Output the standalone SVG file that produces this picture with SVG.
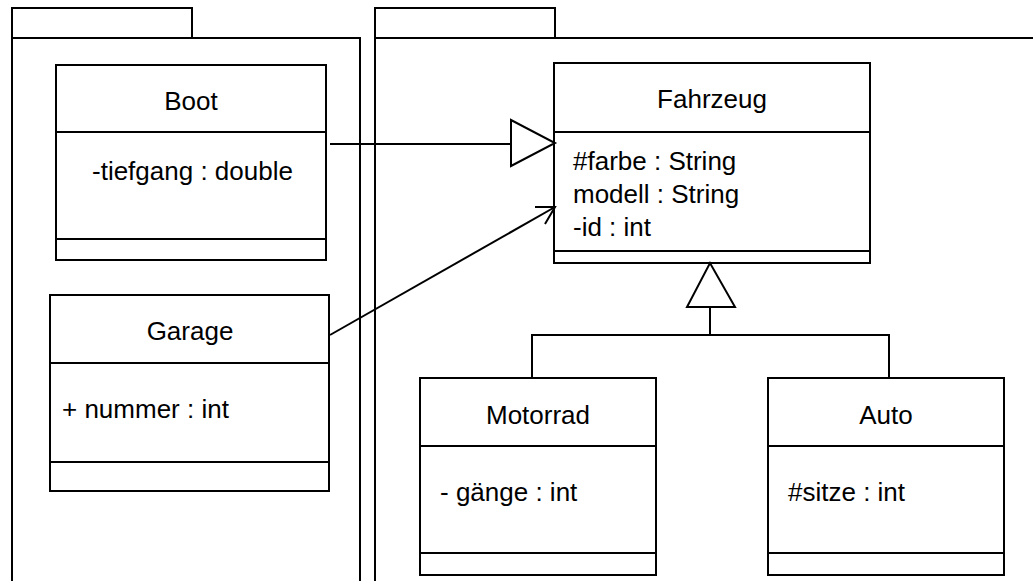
<svg xmlns="http://www.w3.org/2000/svg" width="1033" height="581" viewBox="0 0 1033 581">
<style>
.b{fill:#fff;stroke:#000;stroke-width:2}
.l{fill:none;stroke:#000;stroke-width:2}
.t{font-family:"Liberation Sans",Arial,sans-serif;font-size:26px;fill:#000}
.c{text-anchor:middle}
</style>
<rect width="1033" height="581" fill="#fff"/>
<g id="pkg1">
<rect class="b" x="12" y="8" width="180" height="30"/>
<rect class="b" x="12" y="38" width="348" height="560"/>
</g>
<g id="pkg2">
<rect class="b" x="375" y="8" width="180" height="30"/>
<rect class="b" x="375" y="38" width="680" height="560"/>
</g>
<g id="boot">
<rect class="b" x="56" y="65" width="270" height="195"/>
<line class="l" x1="56" y1="132" x2="326" y2="132"/>
<line class="l" x1="56" y1="239" x2="326" y2="239"/>
<text class="t c" x="191" y="110">Boot</text>
<text class="t" x="92" y="180">-tiefgang : double</text>
</g>
<g id="garage">
<rect class="b" x="50" y="295" width="279" height="196"/>
<line class="l" x1="50" y1="363" x2="329" y2="363"/>
<line class="l" x1="50" y1="462" x2="329" y2="462"/>
<text class="t c" x="190" y="340">Garage</text>
<text class="t" x="62" y="418">+ nummer : int</text>
</g>
<g id="fahrzeug">
<rect class="b" x="554" y="63" width="316" height="200"/>
<line class="l" x1="554" y1="132" x2="870" y2="132"/>
<line class="l" x1="554" y1="251" x2="870" y2="251"/>
<text class="t c" x="712" y="108">Fahrzeug</text>
<text class="t" x="573" y="170">#farbe : String</text>
<text class="t" x="573" y="203">modell : String</text>
<text class="t" x="573" y="236">-id : int</text>
</g>
<g id="motorrad">
<rect class="b" x="420" y="378" width="236" height="197"/>
<line class="l" x1="420" y1="446" x2="656" y2="446"/>
<line class="l" x1="420" y1="553" x2="656" y2="553"/>
<text class="t c" x="538" y="424">Motorrad</text>
<text class="t" x="440" y="501">- gänge : int</text>
</g>
<g id="auto">
<rect class="b" x="768" y="378" width="236" height="197"/>
<line class="l" x1="768" y1="446" x2="1004" y2="446"/>
<line class="l" x1="768" y1="553" x2="1004" y2="553"/>
<text class="t c" x="886" y="424">Auto</text>
<text class="t" x="788" y="501">#sitze : int</text>
</g>
<g id="connectors">
<line class="l" x1="330" y1="144" x2="511" y2="144"/>
<polygon class="b" points="511,120 511,166 555,143"/>
<line class="l" x1="330" y1="335" x2="555" y2="207"/>
<polyline class="l" points="535,207 555,207 545,224"/>
<polyline class="l" points="532,378 532,335 889,335 889,378"/>
<line class="l" x1="710" y1="335" x2="710" y2="307"/>
<polygon class="b" points="687,307 735,307 710,263"/>
</g>
</svg>
